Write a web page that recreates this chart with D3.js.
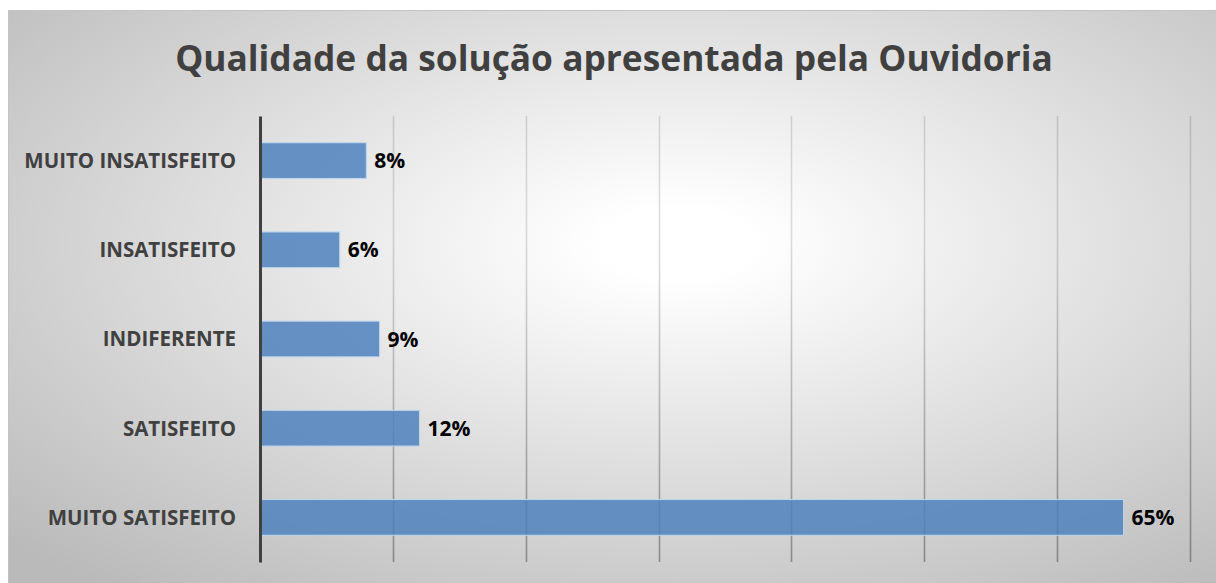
<!DOCTYPE html>
<html>
<head>
<meta charset="utf-8">
<script src="https://cdn.jsdelivr.net/npm/d3@7"></script>
<style>
  html, body { margin: 0; padding: 0; background: #ffffff; }
  svg { display: block; }
  text { font-family: "Open Sans", "Noto Sans", sans-serif; font-weight: bold; }
</style>
</head>
<body>
<div id="chart"></div>
<script>
// chart data
let title = 'Qualidade da solução apresentada pela Ouvidoria';
let categories = ['MUITO INSATISFEITO', 'INSATISFEITO', 'INDIFERENTE', 'SATISFEITO', 'MUITO SATISFEITO'];
let values = [0.08, 0.06, 0.09, 0.12, 0.65];
let gridTicks = [0, 0.1, 0.2, 0.3, 0.4, 0.5, 0.6, 0.7];

let svgWidth = 1216;
let svgHeight = 583;

// plot area inside the chart box
let margin = { top: 116, right: 26, bottom: 21, left: 260 };
let width = svgWidth - margin.left - margin.right;
let height = svgHeight - margin.top - margin.bottom;

let svg = d3.select('#chart').append('svg')
  .attr('width', svgWidth)
  .attr('height', svgHeight);

let defs = svg.append('defs');

// radial background like the office preset
let bg = defs.append('radialGradient')
  .attr('id', 'bgGrad')
  .attr('cx', 0.55).attr('cy', 0.4).attr('r', 0.75);
bg.append('stop').attr('offset', '0%').attr('stop-color', '#ffffff');
bg.append('stop').attr('offset', '8%').attr('stop-color', '#ffffff');
bg.append('stop').attr('offset', '100%').attr('stop-color', '#bababa');

// gridlines get darker towards the bottom
let gg = defs.append('linearGradient')
  .attr('id', 'gridGrad')
  .attr('gradientUnits', 'userSpaceOnUse')
  .attr('x1', 0).attr('y1', margin.top)
  .attr('x2', 0).attr('y2', margin.top + height);
gg.append('stop').attr('offset', '0%').attr('stop-color', '#000').attr('stop-opacity', 0.13);
gg.append('stop').attr('offset', '100%').attr('stop-color', '#000').attr('stop-opacity', 0.4);

// chart box
svg.append('rect')
  .attr('x', 8.5).attr('y', 10.5)
  .attr('width', svgWidth).attr('height', svgHeight)
  .attr('fill', 'url(#bgGrad)')
  .attr('stroke', '#c4c4c4')
  .attr('stroke-width', 1);

// title
let titleText = svg.append('text')
  .attr('x', 614)
  .attr('y', 71)
  .attr('text-anchor', 'middle')
  .attr('font-size', '38px')
  .attr('fill', '#404040')
  .text(title);

// fit the title to the width seen in the reference
let tw = titleText.node().getComputedTextLength();
if (tw > 0) {
  titleText.attr('font-size', (38 * 878 / tw).toFixed(2) + 'px');
}

let chartGroup = svg.append('g')
  .attr('transform', `translate(${margin.left}, ${margin.top})`);

// scales
let xScale = d3.scaleLinear()
  .domain([0, 0.7])
  .range([0, width]);

let yScale = d3.scaleBand()
  .domain(categories)
  .range([0, height])
  .paddingInner(0.6)
  .paddingOuter(0.3);

// vertical gridlines
chartGroup.append('g')
  .selectAll('line')
  .data(gridTicks.slice(1))
  .enter()
  .append('line')
  .attr('x1', d => Math.round(xScale(d)) + 0.5)
  .attr('x2', d => Math.round(xScale(d)) + 0.5)
  .attr('y1', 0)
  .attr('y2', height)
  .attr('stroke', 'url(#gridGrad)')
  .attr('stroke-width', 1.6);

// bars
chartGroup.append('g')
  .selectAll('rect')
  .data(values)
  .enter()
  .append('rect')
  .attr('x', 0)
  .attr('y', (d, i) => yScale(categories[i]))
  .attr('width', d => xScale(d))
  .attr('height', yScale.bandwidth())
  .attr('fill', '#4f81bd')
  .attr('fill-opacity', 0.85)
  .attr('stroke', '#bdd7ee')
  .attr('stroke-width', 1);

// value labels
chartGroup.append('g')
  .selectAll('text')
  .data(values)
  .enter()
  .append('text')
  .attr('x', d => xScale(d) + 8)
  .attr('y', (d, i) => yScale(categories[i]) + yScale.bandwidth() / 2 + 7.5)
  .attr('font-size', '21px')
  .attr('fill', '#000000')
  .text(d => Math.round(d * 100) + '%');

// category axis
let leftAxis = d3.axisLeft(yScale).tickSize(0).tickPadding(24);
let yAxis = chartGroup.append('g')
  .classed('y-axis', true)
  .call(leftAxis);

yAxis.select('.domain')
  .attr('stroke', '#404040')
  .attr('stroke-width', 3);

yAxis.selectAll('text')
  .attr('font-size', '20.5px')
  .attr('fill', '#404040')
  .attr('dy', '0.36em')
  .style('font-family', '"Open Sans", "Noto Sans", sans-serif')
  .style('font-weight', 'bold');
</script>
</body>
</html>
